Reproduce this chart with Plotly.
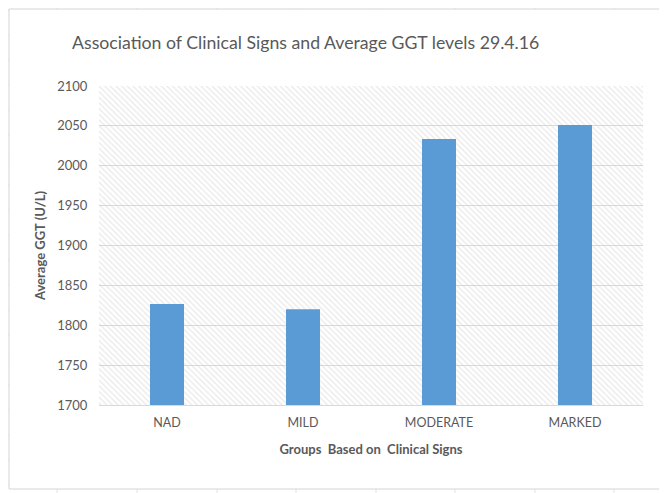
import plotly.graph_objects as go

# ---- data ----
categories = ["NAD", "MILD", "MODERATE", "MARKED"]
avg_ggt = [1826.5, 1820, 2033.5, 2051]
y_ticks = [1700, 1750, 1800, 1850, 1900, 1950, 2000, 2050, 2100]
title_text = "Association of Clinical Signs and Average GGT levels 29.4.16"
x_title = "Groups  Based on  Clinical Signs"
y_title = "Average GGT (U/L)"

Y_MIN, Y_MAX = 1700, 2100

W, H = 667, 493
OFF = 8  # page offset of the figure in the browser window
# plot area in window pixels
PL, PR, PT, PB = 99, 643, 86, 405
ML, MT = PL - OFF, PT - OFF
MR, MB = W - (PR - OFF), H - (PB - OFF)
PW, PH = PR - PL, PB - PT

def px_x(p):
    return (p - PL) / PW

def px_y(p):
    return (PB - p) / PH

FONT = "Lato"
TXT = "#595959"
GRID = "#d9d9d9"

fig = go.Figure()

# hatched plot-area background
fig.add_trace(go.Bar(
    x=categories, y=[Y_MAX - Y_MIN] * len(categories), base=Y_MIN,
    width=1, hoverinfo="skip", showlegend=False,
    marker=dict(color="rgba(0,0,0,0)", line=dict(width=0),
                pattern=dict(shape="\\", size=4, solidity=0.3,
                             fgcolor="#d2d2d2", bgcolor="rgba(0,0,0,0)")),
))

# data bars
fig.add_trace(go.Bar(
    x=categories, y=[v - Y_MIN for v in avg_ggt], base=Y_MIN,
    width=0.25, showlegend=False,
    marker=dict(color="#5B9BD5", line=dict(width=0)),
))

shapes = []
sheet_col = "#e3e3e3"
# spreadsheet grid lines behind the chart
for yp in range(10, 510, 25):
    shapes.append(dict(type="line", xref="paper", yref="paper", layer="below",
                       x0=px_x(0), x1=px_x(W + OFF), y0=px_y(yp), y1=px_y(yp),
                       line=dict(color=sheet_col, width=1)))
for xp in [57, 137, 217, 296, 376, 455, 535, 614]:
    shapes.append(dict(type="line", xref="paper", yref="paper", layer="below",
                       x0=px_x(xp), x1=px_x(xp), y0=px_y(0), y1=px_y(H + OFF),
                       line=dict(color=sheet_col, width=1)))
# chart area
shapes.append(dict(type="rect", xref="paper", yref="paper", layer="below",
                   x0=px_x(9), x1=px_x(660), y0=px_y(489), y1=px_y(9),
                   fillcolor="white", line=dict(color="#d4d4d4", width=1)))

fig.update_layout(
    width=W, height=H,
    margin=dict(l=ML, r=MR, t=MT, b=MB),
    paper_bgcolor="white", plot_bgcolor="rgba(0,0,0,0)",
    barmode="overlay",
    shapes=shapes,
    font=dict(family=FONT, color=TXT, size=12),
    title=dict(text=title_text, xref="container", x=(72 - OFF) / W, xanchor="left",
               yref="container", y=1 - (43 - OFF) / H, yanchor="middle",
               font=dict(family=FONT, size=17.7, color=TXT)),
    xaxis=dict(range=[-0.5, len(categories) - 0.5], showgrid=False,
               showline=True, linecolor=GRID, linewidth=1,
               ticks="outside", ticklen=6, tickcolor="rgba(0,0,0,0)",
               tickfont=dict(size=12.5, color=TXT),
               title=dict(text=x_title, standoff=15,
                          font=dict(size=13, color=TXT, family=FONT, weight="bold"))),
    yaxis=dict(range=[Y_MIN, Y_MAX], tickvals=y_ticks, showgrid=True,
               gridcolor=GRID, gridwidth=1, zeroline=False, showline=False,
               ticks="outside", ticklen=8, tickcolor="rgba(0,0,0,0)",
               tickfont=dict(size=13, color=TXT),
               title=dict(text=y_title, standoff=8,
                          font=dict(size=13, color=TXT, family=FONT, weight="bold"))),
)

fig.write_html("out.html")
